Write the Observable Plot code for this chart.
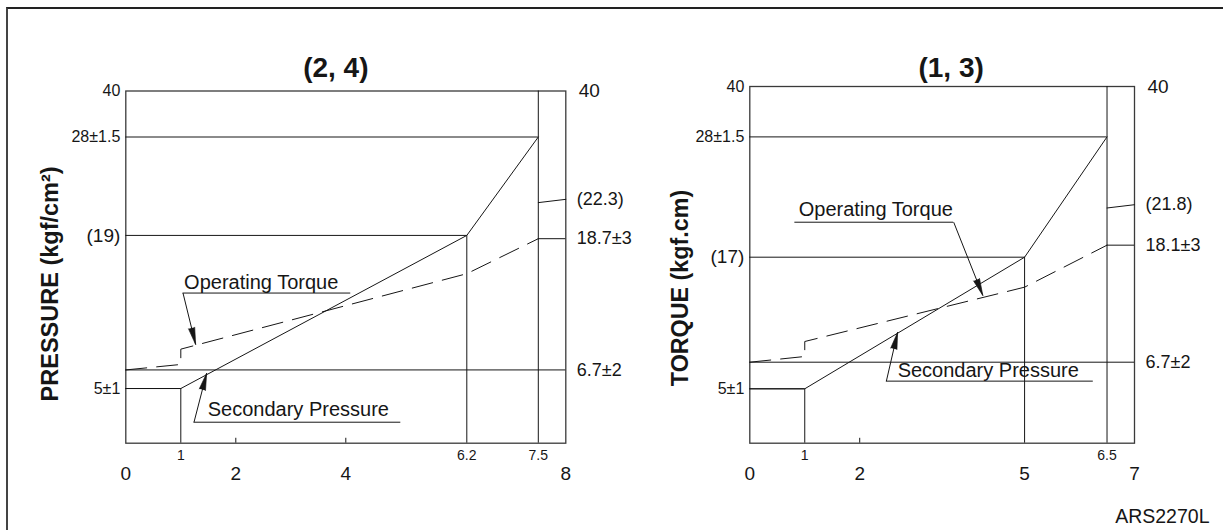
<!DOCTYPE html>
<html><head><meta charset="utf-8">
<script src="https://cdn.jsdelivr.net/npm/d3@7"></script>
<script src="https://cdn.jsdelivr.net/npm/@observablehq/plot@0.6"></script>
<style>
html,body{margin:0;padding:0;background:#fff;}
#chart{position:relative;width:1223px;height:530px;overflow:hidden;background:#fff;}
#chart svg{position:absolute;left:0;top:0;overflow:visible;}
#border{position:absolute;left:6px;top:7px;right:-10px;bottom:-10px;border-left:2px solid #444;border-top:2px solid #222;}
</style></head><body><div id="chart"><div id="border"></div></div>
<script>
// ================= LEFT PANEL: (2, 4) =================
const leftTitle = "(2, 4)";
const leftYTitle = "PRESSURE (kgf/cm²)";
const leftXDomain = [0, 8];
const leftYBreaks = [0, 28, 40];
const leftXMinor = [1, 6.2, 7.5];
const leftXMinorLabels = ["1", "6.2", "7.5"];
const leftXMajor = [0, 2, 4, 8];
const leftXMajorLabels = ["0", "2", "4", "8"];
const leftXTickMarks = [2, 4];
const leftYLeftValues = [40, 28, 5];
const leftYLeftLabels = ["40", "28±1.5", "5±1"];
const leftYLeftParenValues = [19];
const leftYLeftParenLabels = ["(19)"];
const leftYRightTopValues = [40];
const leftYRightTopLabels = ["40"];
const leftYRightValues = [22.3, 18.7, 6.7];
const leftYRightLabels = ["(22.3)", "18.7±3", "6.7±2"];
const leftSecondaryX = [0, 1, 6.2, 7.5];
const leftSecondaryY = [5, 5, 19, 28];
const leftTorqueX = [0, 1, 1, 6.2, 7.5];
const leftTorqueY = [6.7, 7.2, 8.6, 15.5, 18.7];
const leftHLineY = [28, 19, 5, 6.7, 18.7];
const leftHLineX1 = [0, 0, 0, 0, 7.5];
const leftHLineX2 = [7.5, 6.2, 1, 8, 8];
const leftVLineX = [1, 6.2, 7.5];
const leftVLineTop = [5, 19, 40];
const leftSlopeX = [7.5, 8];
const leftSlopeY = [22.0, 22.3];
const leftNoteText = ["Operating Torque", "Secondary Pressure"];
const leftNoteX = [1.06, 1.49];
const leftNoteY = [14.66, 3.05];
const leftUnderX1 = [1.04, 1.24];
const leftUnderX2 = [4.09, 5.0];
const leftUnderY = [13.73, 1.92];
const leftLeaderX = [1.04, 1.24];
const leftLeaderY = [13.73, 1.92];
const leftTipX = [1.27, 1.47];
const leftTipY = [9.02, 6.4];

// ================= RIGHT PANEL: (1, 3) =================
const rightTitle = "(1, 3)";
const rightYTitle = "TORQUE (kgf.cm)";
const rightXDomain = [0, 7];
const rightYBreaks = [0, 5, 6.7, 17, 28, 40];
const rightXMinor = [1, 6.5];
const rightXMinorLabels = ["1", "6.5"];
const rightXMajor = [0, 2, 5, 7];
const rightXMajorLabels = ["0", "2", "5", "7"];
const rightXTickMarks = [2];
const rightYLeftValues = [40, 28, 5];
const rightYLeftLabels = ["40", "28±1.5", "5±1"];
const rightYLeftParenValues = [17];
const rightYLeftParenLabels = ["(17)"];
const rightYRightTopValues = [40];
const rightYRightTopLabels = ["40"];
const rightYRightValues = [21.8, 18.1, 6.7];
const rightYRightLabels = ["(21.8)", "18.1±3", "6.7±2"];
const rightSecondaryX = [0, 1, 5, 6.5];
const rightSecondaryY = [5, 5, 17, 28];
const rightTorqueX = [0, 1, 1, 5, 6.5];
const rightTorqueY = [6.7, 7.26, 8.73, 14.06, 18.1];
const rightHLineY = [28, 17, 5, 6.7, 18.1];
const rightHLineX1 = [0, 0, 0, 0, 6.5];
const rightHLineX2 = [6.5, 5, 1, 7, 7];
const rightVLineX = [1, 5, 6.5];
const rightVLineTop = [5, 17, 40];
const rightSlopeX = [6.5, 7];
const rightSlopeY = [21.5, 21.8];
const rightNoteText = ["Operating Torque", "Secondary Pressure"];
const rightNoteX = [0.89, 2.69];
const rightNoteY = [21.33, 6.17];
const rightUnderX1 = [0.82, 2.485];
const rightUnderX2 = [3.71, 6.25];
const rightUnderY = [20.2, 5.49];
const rightLeaderX = [3.71, 2.485];
const rightLeaderY = [20.2, 5.49];
const rightTipX = [4.24, 2.69];
const rightTipY = [13.24, 9.64];

const figureCode = "ARS2270L";

// ================= drawing =================
const W = 1223, H = 530;
const INK = "#161616";
const FONT = "'Liberation Sans', Arial, Helvetica, sans-serif";

function panel(p) {
  const xs = d3.scaleLinear(p.xDomain, [p.left, p.right]);
  const ys = d3.scaleLinear(p.yBreaks, p.yRange);
  const pts = (a, b) => a.map((v, i) => ({x: v, y: b[i]}));
  const hLines = p.hY.map((y, i) => ({y, x1: p.hX1[i], x2: p.hX2[i]}));
  const vLines = p.vX.map((x, i) => ({x, top: p.vTop[i]}));
  const notes = p.noteText.map((t, i) => ({
    t, x: p.noteX[i], y: p.noteY[i],
    ux1: p.ux1[i], ux2: p.ux2[i], uy: p.uy[i],
    lx: p.lx[i], ly: p.ly[i], tx: p.tx[i], ty: p.ty[i]
  }));
  const fmt = (vals, labels) => (d) => labels[vals.indexOf(d)];
  const axisCommon = {tickSize: 0, label: null, fontFamily: FONT};
  const marks = [
    Plot.frame({stroke: "#3a3a3a", strokeWidth: 1.3}),
    Plot.ruleY(hLines, {y: "y", x1: "x1", x2: "x2", stroke: INK, strokeWidth: 1}),
    Plot.ruleX(vLines, {x: "x", y1: 0, y2: "top", stroke: INK, strokeWidth: 1}),
    Plot.ruleX(p.tickMarks, {x: d => d, y1: 0, y2: 0.45, stroke: INK, strokeWidth: 1}),
    Plot.line(pts(p.slopeX, p.slopeY), {x: "x", y: "y", stroke: INK, strokeWidth: 1}),
    Plot.line(pts(p.secX, p.secY), {x: "x", y: "y", stroke: INK, strokeWidth: 1}),
    Plot.line(pts(p.torX, p.torY), {x: "x", y: "y", stroke: INK, strokeWidth: 1, strokeDasharray: "21,10"}),
    Plot.ruleY(notes, {y: "uy", x1: "ux1", x2: "ux2", stroke: INK, strokeWidth: 1}),
    Plot.link(notes, {x1: "lx", y1: "ly", x2: "tx", y2: "ty", stroke: INK, strokeWidth: 1}),
    Plot.vector(notes, {
      x: "tx", y: "ty", length: 17, r: 3.2, shape: "spike", anchor: "end",
      rotate: d => Math.atan2(xs(d.tx) - xs(d.lx), -(ys(d.ty) - ys(d.ly))) * 180 / Math.PI,
      fill: INK, stroke: INK, strokeWidth: 0.6
    }),
    Plot.text(notes, {x: "x", y: "y", text: "t", textAnchor: "start", lineAnchor: "middle", fontSize: 20, fill: INK}),
    Plot.axisX({...axisCommon, ticks: p.xMinor, anchor: "bottom", tickPadding: 7, fontSize: 14, tickFormat: fmt(p.xMinor, p.xMinorLabels)}),
    Plot.axisX({...axisCommon, ticks: p.xMajor, anchor: "bottom", tickPadding: 23, fontSize: 19, tickFormat: fmt(p.xMajor, p.xMajorLabels)}),
    Plot.axisY({...axisCommon, ticks: p.yLeft, anchor: "left", tickPadding: 5.5, fontSize: 16, tickFormat: fmt(p.yLeft, p.yLeftLabels)}),
    Plot.axisY({...axisCommon, ticks: p.yParen, anchor: "left", tickPadding: 5.5, fontSize: 19, tickFormat: fmt(p.yParen, p.yParenLabels)}),
    Plot.axisY({...axisCommon, ticks: p.yRTop, anchor: "right", tickPadding: 13, fontSize: 19, tickFormat: fmt(p.yRTop, p.yRTopLabels)}),
    Plot.axisY({...axisCommon, ticks: p.yR, anchor: "right", tickPadding: 11, fontSize: 18, tickFormat: fmt(p.yR, p.yRLabels)}),
    Plot.text([p.title], {text: d => d, frameAnchor: "top", dx: p.titleDx, dy: p.titleDy, fontSize: 28, fontWeight: "bold", lineAnchor: "middle", fill: INK}),
    Plot.text([p.yTitle], {text: d => d, x: p.yTitleX, y: p.yTitleY, rotate: -90, fontSize: p.yTitleSize, fontWeight: "bold", textAnchor: "middle", lineAnchor: "middle", fill: INK})
  ];
  if (p.code) marks.push(Plot.text([p.code], {text: d => d, frameAnchor: "bottom-right", textAnchor: "end", lineAnchor: "middle", dx: 75, dy: 73.5, fontSize: 19.5, fill: INK}));
  return Plot.plot({
    width: W, height: H,
    marginLeft: p.left, marginRight: W - p.right, marginTop: p.yRange[p.yRange.length - 1], marginBottom: H - p.yRange[0],
    style: {background: "transparent", fontFamily: FONT, color: INK, overflow: "visible"},
    x: {type: "linear", domain: p.xDomain, range: [p.left, p.right], axis: null},
    y: {type: "linear", domain: p.yBreaks, range: p.yRange, axis: null},
    marks
  });
}

const leftPlot = panel({
  left: 125.3, right: 565.3, yRange: [442.7, 136.5, 90.5],
  xDomain: leftXDomain, yBreaks: leftYBreaks,
  xMinor: leftXMinor, xMinorLabels: leftXMinorLabels, xMajor: leftXMajor, xMajorLabels: leftXMajorLabels,
  tickMarks: leftXTickMarks,
  yLeft: leftYLeftValues, yLeftLabels: leftYLeftLabels, yParen: leftYLeftParenValues, yParenLabels: leftYLeftParenLabels,
  yRTop: leftYRightTopValues, yRTopLabels: leftYRightTopLabels, yR: leftYRightValues, yRLabels: leftYRightLabels,
  secX: leftSecondaryX, secY: leftSecondaryY, torX: leftTorqueX, torY: leftTorqueY,
  hY: leftHLineY, hX1: leftHLineX1, hX2: leftHLineX2, vX: leftVLineX, vTop: leftVLineTop,
  slopeX: leftSlopeX, slopeY: leftSlopeY,
  noteText: leftNoteText, noteX: leftNoteX, noteY: leftNoteY, ux1: leftUnderX1, ux2: leftUnderX2, uy: leftUnderY,
  lx: leftLeaderX, ly: leftLeaderY, tx: leftTipX, ty: leftTipY,
  title: leftTitle, titleDx: -10, titleDy: -23, yTitle: leftYTitle, yTitleX: -1.378, yTitleY: 14.57, yTitleSize: 23.5
});

const rightPlot = panel({
  left: 749.3, right: 1134, yRange: [442.7, 388.3, 361.7, 256.7, 136.4, 86],
  xDomain: rightXDomain, yBreaks: rightYBreaks,
  xMinor: rightXMinor, xMinorLabels: rightXMinorLabels, xMajor: rightXMajor, xMajorLabels: rightXMajorLabels,
  tickMarks: rightXTickMarks,
  yLeft: rightYLeftValues, yLeftLabels: rightYLeftLabels, yParen: rightYLeftParenValues, yParenLabels: rightYLeftParenLabels,
  yRTop: rightYRightTopValues, yRTopLabels: rightYRightTopLabels, yR: rightYRightValues, yRLabels: rightYRightLabels,
  secX: rightSecondaryX, secY: rightSecondaryY, torX: rightTorqueX, torY: rightTorqueY,
  hY: rightHLineY, hX1: rightHLineX1, hX2: rightHLineX2, vX: rightVLineX, vTop: rightVLineTop,
  slopeX: rightSlopeX, slopeY: rightSlopeY,
  noteText: rightNoteText, noteX: rightNoteX, noteY: rightNoteY, ux1: rightUnderX1, ux2: rightUnderX2, uy: rightUnderY,
  lx: rightLeaderX, ly: rightLeaderY, tx: rightTipX, ty: rightTipY,
  title: rightTitle, titleDx: 9, titleDy: -18.5, yTitle: rightYTitle, yTitleX: -1.26, yTitleY: 13.98, yTitleSize: 23.3,
  code: figureCode
});

const chart = document.getElementById("chart");
chart.appendChild(leftPlot);
chart.appendChild(rightPlot);
</script>
</body></html>
